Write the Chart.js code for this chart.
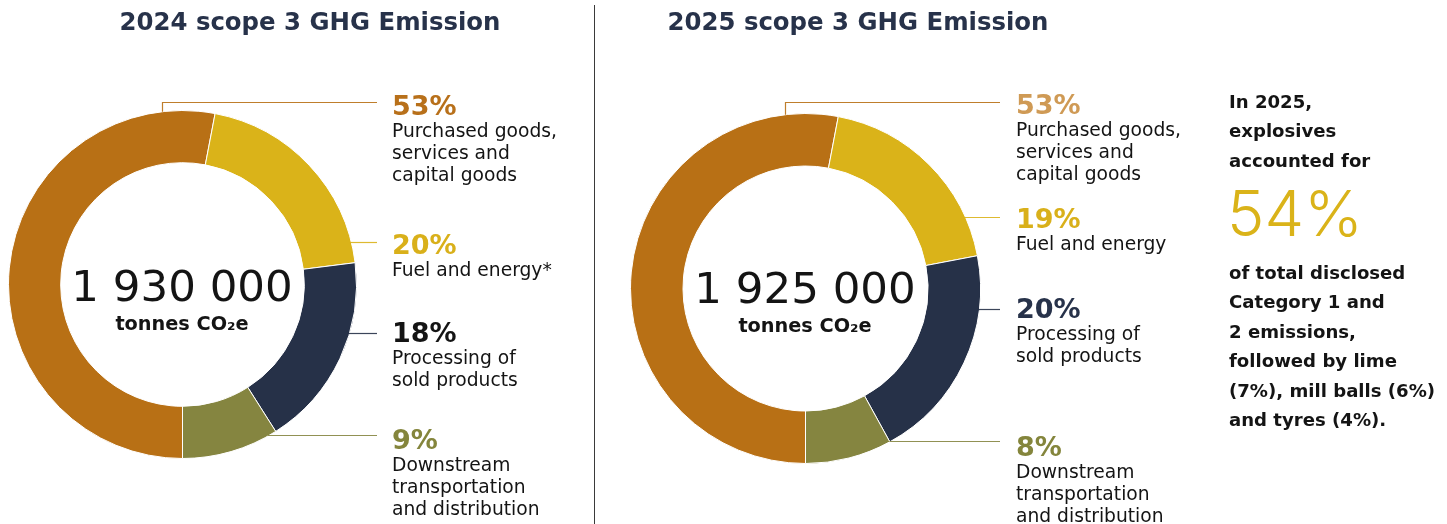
<!DOCTYPE html>
<html>
<head>
<meta charset="utf-8">
<script src="https://cdn.jsdelivr.net/npm/chart.js@4.4.1/dist/chart.umd.min.js"></script>
<style>
  body { margin: 0; background: #fff; }
  #page { position: relative; width: 1447px; height: 524px; overflow: hidden; font-family: "DejaVu Sans", sans-serif; color: #141414; }
  canvas { position: absolute; left: 0; top: 0; }
  .title { position: absolute; top: 6px; font-weight: 700; font-size: 24.4px; line-height: 32px; color: #27324a; white-space: nowrap; transform: translateX(-50%); }
  .divider { position: absolute; left: 594px; top: 5px; width: 1px; height: 519px; background: #3a3a3a; }
  .lbl { position: absolute; white-space: nowrap; }
  .pct { font-weight: 700; font-size: 27px; line-height: 28px; }
  .desc { font-size: 18.7px; line-height: 22px; }
  .center { position: absolute; width: 350px; text-align: center; white-space: nowrap; }
  .big { font-size: 43.5px; line-height: 50px; }
  .unit { font-weight: 700; font-size: 19.3px; line-height: 26px; }
  .note { position: absolute; left: 1229px; white-space: nowrap; font-weight: 700; font-size: 18.1px; line-height: 29.4px; }
  .hl { position: absolute; left: 1227px; top: 180px; font-family: "Inter", sans-serif; font-weight: 300; font-size: 63px; line-height: 66px; color: #dab319; }
</style>
</head>
<body>
<div id="page">
  <canvas id="chart2024" width="1447" height="524"></canvas>
  <canvas id="chart2025" width="1447" height="524"></canvas>

  <div class="title" style="left:310px">2024 scope 3 GHG Emission</div>
  <div class="title" style="left:858px">2025 scope 3 GHG Emission</div>
  <div class="divider"></div>

  <div class="center" style="left:7px;top:261px"><div class="big">1 930 000</div><div class="unit">tonnes CO₂e</div></div>
  <div class="center" style="left:630px;top:263px"><div class="big">1 925 000</div><div class="unit">tonnes CO₂e</div></div>

  <div class="lbl" style="left:392px;top:92px"><div class="pct" style="color:#b8701a">53%</div><div class="desc">Purchased goods,<br>services and<br>capital goods</div></div>
  <div class="lbl" style="left:392px;top:231px"><div class="pct" style="color:#d9b01a">20%</div><div class="desc">Fuel and energy*</div></div>
  <div class="lbl" style="left:392px;top:319px"><div class="pct" style="color:#141414">18%</div><div class="desc">Processing of<br>sold products</div></div>
  <div class="lbl" style="left:392px;top:426px"><div class="pct" style="color:#84853c">9%</div><div class="desc">Downstream<br>transportation<br>and distribution</div></div>

  <div class="lbl" style="left:1016px;top:91px"><div class="pct" style="color:#cf9a55">53%</div><div class="desc">Purchased goods,<br>services and<br>capital goods</div></div>
  <div class="lbl" style="left:1016px;top:205px"><div class="pct" style="color:#d9b01a">19%</div><div class="desc">Fuel and energy</div></div>
  <div class="lbl" style="left:1016px;top:295px"><div class="pct" style="color:#27324a">20%</div><div class="desc">Processing of<br>sold products</div></div>
  <div class="lbl" style="left:1016px;top:433px"><div class="pct" style="color:#84853c">8%</div><div class="desc">Downstream<br>transportation<br>and distribution</div></div>

  <div class="note" style="top:87px">In 2025,<br>explosives<br>accounted for</div>
  <div class="hl">54%</div>
  <div class="note" style="top:258px">of total disclosed<br>Category 1 and<br>2 emissions,<br>followed by lime<br>(7%), mill balls (6%)<br>and tyres (4%).</div>
</div>

<script>
// scope 3 categories, same order in both years
var categories = ['Purchased goods, services and capital goods', 'Fuel and energy', 'Processing of sold products', 'Downstream transportation and distribution'];
var share2024 = [53, 20, 18, 9];
var share2025 = [53, 19, 20, 8];
var totals = [1930000, 1925000];

var sliceColors = ['#b87015', '#dab319', '#263148', '#858540'];

// thin connector lines from the ring out to the text blocks
// first slice gets an elbow (up from the ring, then across), the rest run straight across
var leaderLines = {
  id: 'leaderLines',
  afterDraw: function (chart, args, opts) {
    var arc = chart.getDatasetMeta(0).data[0];
    if (!arc) return;
    var cx = arc.x, cy = arc.y, r = arc.outerRadius;
    var c = chart.ctx;
    c.save();
    c.lineWidth = 1.2;
    opts.lines.forEach(function (ln, i) {
      c.strokeStyle = sliceColors[i];
      c.globalAlpha = 0.9;
      c.beginPath();
      if (ln.elbowX !== undefined) {
        var yTop = cy - Math.sqrt(r * r - Math.pow(ln.elbowX - cx, 2));
        c.moveTo(ln.elbowX + 0.5, yTop);
        c.lineTo(ln.elbowX + 0.5, ln.y + 0.5);
        c.lineTo(opts.endX, ln.y + 0.5);
      } else {
        var xEdge = cx + Math.sqrt(Math.max(r * r - Math.pow(ln.y - cy, 2), 0));
        c.moveTo(xEdge - 2, ln.y + 0.5);
        c.lineTo(opts.endX, ln.y + 0.5);
      }
      c.stroke();
    });
    c.restore();
  }
};

function makeRing(id, values, pad, lines, endX) {
  return new Chart(document.getElementById(id), {
    type: 'doughnut',
    data: {
      labels: categories,
      datasets: [{
        data: values,
        backgroundColor: sliceColors,
        borderColor: '#ffffff',
        borderWidth: 1
      }]
    },
    options: {
      responsive: false,
      animation: false,
      rotation: 180,
      cutout: '70%',
      layout: { padding: pad },
      events: [],
      plugins: {
        legend: { display: false },
        tooltip: { enabled: false },
        leaderLines: { lines: lines, endX: endX }
      }
    },
    plugins: [leaderLines]
  });
}

makeRing('chart2024', share2024,
  { left: 8, top: 110, right: 1447 - 357, bottom: 524 - 459 },
  [{ elbowX: 162, y: 102 }, { y: 242 }, { y: 333 }, { y: 435 }], 377);

makeRing('chart2025', share2025,
  { left: 630, top: 113, right: 1447 - 981, bottom: 524 - 464 },
  [{ elbowX: 785, y: 102 }, { y: 217 }, { y: 309 }, { y: 441 }], 1000);
</script>
</body>
</html>
